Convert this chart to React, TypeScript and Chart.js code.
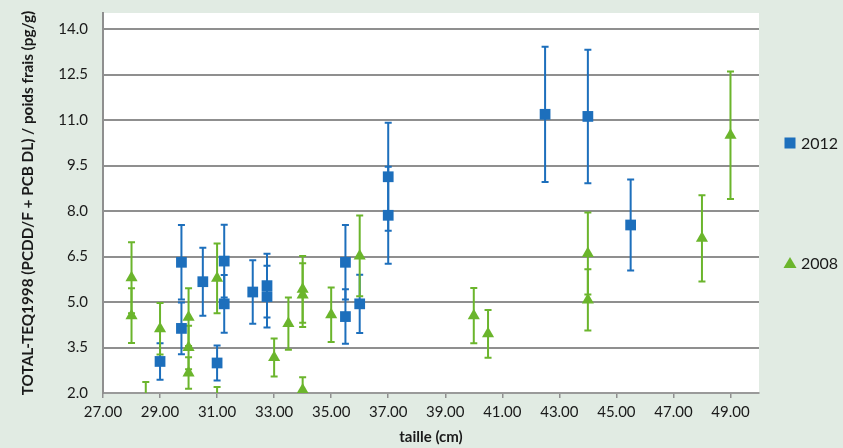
import React, { useEffect, useRef } from "react";
import { Chart, registerables } from "chart.js";

Chart.register(...registerables);

// ---- data ----
const xTickValues = [27, 29, 31, 33, 35, 37, 39, 41, 43, 45, 47, 49];
const yTickValues = [2, 3.5, 5, 6.5, 8, 9.5, 11, 12.5, 14];

const size2012 = [29.0, 29.75, 29.75, 30.5, 31.0, 31.25, 31.25, 32.25, 32.75, 32.75, 35.5, 35.5, 36.0, 37.0, 37.0, 42.5, 44.0, 45.5];
const teq2012 = [3.04, 6.31, 4.13, 5.67, 2.99, 6.35, 4.94, 5.33, 5.54, 5.18, 6.31, 4.52, 4.94, 9.13, 7.86, 11.19, 11.12, 7.54];
const err2012 = [0.6, 1.23, 0.85, 1.12, 0.58, 1.2, 0.95, 1.05, 1.05, 1.02, 1.23, 0.9, 0.96, 1.78, 1.6, 2.23, 2.2, 1.5];

const size2008 = [28.0, 28.0, 28.5, 29.0, 30.0, 30.0, 30.0, 31.0, 31.0, 33.0, 33.5, 34.0, 34.0, 34.0, 35.0, 36.0, 40.0, 40.5, 44.0, 44.0, 48.0, 49.0];
const teq2008 = [5.8, 4.55, 1.6, 4.12, 4.5, 3.5, 2.66, 5.78, 1.75, 3.17, 4.29, 5.42, 5.23, 2.1, 4.58, 6.52, 4.55, 3.95, 6.6, 5.07, 7.1, 10.5];
const err2008 = [1.17, 0.9, 0.76, 0.85, 0.95, 0.72, 0.52, 1.15, 0.45, 0.63, 0.86, 1.1, 1.05, 0.42, 0.9, 1.33, 0.91, 0.79, 1.35, 1.01, 1.42, 2.1];

const seriesNames = ["2012", "2008"];
const yTitle = "TOTAL-TEQ1998 (PCDD/F + PCB DL) / poids frais (pg/g)";
const xTitle = "taille (cm)";

const BLUE = "#1d6fbc";
const GREEN = "#6bb52c";
const BG = "#e1ebe3";
const GRID = "#8f8f8f";
const FONT = "Lato, 'Liberation Sans', sans-serif";

const build = (xs: number[], ys: number[], es: number[]) =>
  xs.map((x, i) => ({ x, y: ys[i], e: es[i] }));

const backgroundPlugin = {
  id: "bgPlot",
  beforeDraw(chart: any) {
    const { ctx, chartArea, width, height } = chart;
    ctx.save();
    ctx.fillStyle = BG;
    ctx.fillRect(0, 0, width, height);
    ctx.fillStyle = "#ffffff";
    ctx.fillRect(chartArea.left, chartArea.top, chartArea.right - chartArea.left, chartArea.bottom - chartArea.top);
    ctx.restore();
  },
};

const errorBarPlugin = {
  id: "errorBars",
  beforeDatasetsDraw(chart: any) {
    const { ctx, chartArea } = chart;
    const xs = chart.scales.x;
    const ys = chart.scales.y;
    ctx.save();
    ctx.beginPath();
    ctx.rect(chartArea.left, chartArea.top, chartArea.right - chartArea.left, chartArea.bottom - chartArea.top);
    ctx.clip();
    chart.data.datasets.forEach((ds: any) => {
      ctx.strokeStyle = ds.errorColor;
      ctx.lineWidth = 2;
      ds.data.forEach((p: any) => {
        const px = xs.getPixelForValue(p.x);
        const yt = ys.getPixelForValue(p.y + p.e);
        const yb = ys.getPixelForValue(p.y - p.e);
        ctx.beginPath();
        ctx.moveTo(px, yt);
        ctx.lineTo(px, yb);
        ctx.moveTo(px - 3.5, yt);
        ctx.lineTo(px + 3.5, yt);
        ctx.moveTo(px - 3.5, yb);
        ctx.lineTo(px + 3.5, yb);
        ctx.stroke();
      });
    });
    ctx.restore();
  },
};

const legendPlugin = {
  id: "sideLegend",
  afterDraw(chart: any) {
    const { ctx, chartArea } = chart;
    const mx = chartArea.right + 31;
    const tx = chartArea.right + 42;
    const rows = [chartArea.top + 130, chartArea.top + 250];
    ctx.save();
    ctx.font = `16px ${FONT}`;
    ctx.textBaseline = "middle";
    // 2012
    ctx.fillStyle = BLUE;
    ctx.fillRect(mx - 5.5, rows[0] - 5.5, 11, 11);
    ctx.fillStyle = "#1a1a1a";
    ctx.fillText(seriesNames[0], tx, rows[0] + 1);
    // 2008
    ctx.fillStyle = GREEN;
    ctx.beginPath();
    ctx.moveTo(mx, rows[1] - 6);
    ctx.lineTo(mx + 6.5, rows[1] + 5);
    ctx.lineTo(mx - 6.5, rows[1] + 5);
    ctx.closePath();
    ctx.fill();
    ctx.fillStyle = "#1a1a1a";
    ctx.fillText(seriesNames[1], tx, rows[1] + 1);
    ctx.restore();
  },
};

export default function App() {
  const ref = useRef<HTMLCanvasElement | null>(null);

  useEffect(() => {
    if (!ref.current) return;
    const chart = new Chart(ref.current, {
      type: "scatter",
      data: {
        datasets: [
          {
            label: seriesNames[0],
            data: build(size2012, teq2012, err2012),
            pointStyle: "rect",
            pointRadius: 7.6,
            backgroundColor: BLUE,
            borderColor: BLUE,
            borderWidth: 0,
            clip: 0,
            errorColor: BLUE,
          } as any,
          {
            label: seriesNames[1],
            data: build(size2008, teq2008, err2008),
            pointStyle: "triangle",
            pointRadius: 7,
            backgroundColor: GREEN,
            borderColor: GREEN,
            borderWidth: 0,
            clip: 0,
            errorColor: GREEN,
          } as any,
        ],
      },
      options: {
        animation: false,
        responsive: false,
        maintainAspectRatio: false,
        layout: { padding: { top: 13, right: 84, left: 0, bottom: 0 } },
        plugins: {
          legend: { display: false },
          tooltip: { enabled: false },
        },
        scales: {
          x: {
            type: "linear",
            min: 27,
            max: 50,
            afterBuildTicks: (s: any) => {
              s.ticks = xTickValues.map((v) => ({ value: v }));
            },
            afterFit: (s: any) => {
              s.height = 55;
              s.paddingLeft = 0;
              s.paddingRight = 0;
            },
            ticks: {
              callback: (v: any) => Number(v).toFixed(2),
              font: { family: FONT, size: 15 },
              color: "#1a1a1a",
              padding: 5,
              maxRotation: 0,
              autoSkip: false,
            },
            grid: {
              drawOnChartArea: false,
              drawTicks: true,
              tickLength: 5,
              color: GRID,
              lineWidth: 1.5,
            },
            border: { color: "#9a9a9a", width: 2 },
            title: {
              display: true,
              text: xTitle,
              font: { family: FONT, size: 15, weight: "bold" },
              color: "#1a1a1a",
              padding: { top: 0, bottom: 2 },
            },
          },
          y: {
            type: "linear",
            min: 2,
            max: 14.53,
            afterBuildTicks: (s: any) => {
              s.ticks = yTickValues.map((v) => ({ value: v }));
            },
            afterFit: (s: any) => {
              s.width = 103;
              s.paddingTop = 0;
              s.paddingBottom = 0;
            },
            ticks: {
              callback: (v: any) => Number(v).toFixed(1),
              font: { family: FONT, size: 15 },
              color: "#1a1a1a",
              padding: 15,
            },
            grid: {
              drawTicks: false,
              color: GRID,
              lineWidth: 2,
            },
            border: { color: GRID, width: 2 },
            title: {
              display: true,
              text: yTitle,
              font: { family: FONT, size: 15.3, weight: "bold" },
              color: "#1a1a1a",
              padding: { top: 19, bottom: 0 },
            },
          },
        },
      } as any,
      plugins: [backgroundPlugin, errorBarPlugin, legendPlugin],
    });
    return () => chart.destroy();
  }, []);

  return (
    <div style={{ position: "fixed", left: 0, top: 0, width: 843, height: 448, background: BG }}>
      <canvas ref={ref} width={843} height={448} />
    </div>
  );
}
